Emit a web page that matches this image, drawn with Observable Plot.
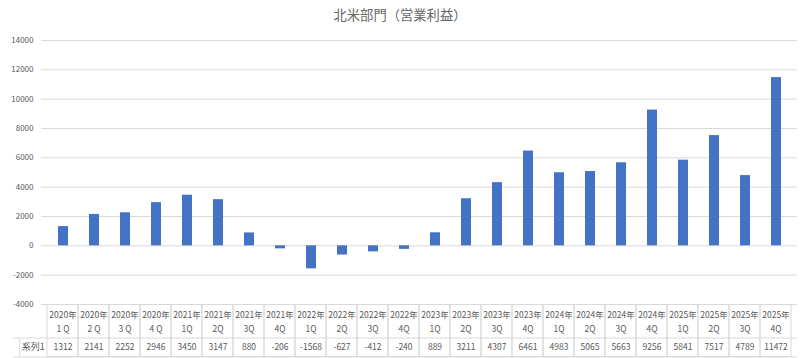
<!DOCTYPE html>
<html>
<head>
<meta charset="utf-8">
<script src="https://cdn.jsdelivr.net/npm/d3@7"></script>
<script src="https://cdn.jsdelivr.net/npm/@observablehq/plot@0.6"></script>
<style>
  html, body { margin: 0; padding: 0; background: #fff; }
  #wrap { width: 800px; height: 358px; position: relative; font-family: "Noto Sans CJK JP", "Noto Sans", sans-serif; }
  #title { height: 28px; line-height: 30px; text-align: center; font-size: 13.3px; color: #666666; }
  svg { display: block; }
</style>
</head>
<body>
<div id="wrap">
  <div id="title">北米部門（営業利益）</div>
  <div id="chart"></div>
  <div id="table"></div>
</div>
<script>
const years = ["2020年","2020年","2020年","2020年","2021年","2021年","2021年","2021年",
               "2022年","2022年","2022年","2022年","2023年","2023年","2023年","2023年",
               "2024年","2024年","2024年","2024年","2025年","2025年","2025年","2025年"];
const quarters = ["1 Q","2 Q","3 Q","4 Q","1Q","2Q","3Q","4Q",
                  "1Q","2Q","3Q","4Q","1Q","2Q","3Q","4Q",
                  "1Q","2Q","3Q","4Q","1Q","2Q","3Q","4Q"];
const values = [1312, 2141, 2252, 2946, 3450, 3147, 880, -206,
                -1568, -627, -412, -240, 889, 3211, 4307, 6461,
                4983, 5065, 5663, 9256, 5841, 7517, 4789, 11472];
const seriesName = "系列1";
const yTicks = [-4000, -2000, 0, 2000, 4000, 6000, 8000, 10000, 12000, 14000];

const data = values.map((v, i) => ({key: years[i] + quarters[i] + i, year: years[i], q: quarters[i], value: v}));
const domain = data.map(d => d.key);

const W = 800, ML = 41, MR = 3;
const gridColor = "#d9d9d9";
const textColor = "#595959";
const font = "'Noto Sans CJK JP', 'Noto Sans', sans-serif";

const chart = Plot.plot({
  width: W,
  height: 276,
  marginLeft: ML,
  marginRight: MR,
  marginTop: 12,
  marginBottom: 0,
  style: {fontFamily: font, fontSize: "8px", color: textColor, background: "transparent", overflow: "visible"},
  x: {domain, paddingInner: 0.68, paddingOuter: 0.34, axis: null},
  y: {domain: [-4000, 14000], axis: null},
  marks: [
    Plot.ruleY(yTicks, {stroke: gridColor, strokeOpacity: 1}),
    Plot.axisY({ticks: yTicks, tickSize: 0, tickPadding: 8, label: null, fill: textColor, fontSize: 8, tickFormat: d => String(d)}),
    Plot.barY(data, {x: "key", y: "value", fill: "#4472C4"})
  ]
});
document.getElementById("chart").appendChild(chart);

const table = Plot.plot({
  width: W,
  height: 54,
  marginLeft: ML,
  marginRight: MR,
  marginTop: 0,
  marginBottom: 0,
  style: {fontFamily: font, fontSize: "8.5px", color: textColor, background: "transparent", overflow: "visible"},
  x: {domain, padding: 0, axis: null},
  y: {domain: [0, 54], range: [0, 54], axis: null},
  marks: [
    Plot.barY(data, {x: "key", y1: 0.5, y2: 52.5, fill: "none", stroke: gridColor, strokeWidth: 1}),
    Plot.ruleY([33.5], {stroke: gridColor, strokeOpacity: 1, insetLeft: -28}),
    Plot.ruleY([52.5], {stroke: gridColor, strokeOpacity: 1, insetLeft: -28}),
    Plot.ruleX([domain[0]], {stroke: gridColor, strokeOpacity: 1, dx: -(W - ML - MR) / domain.length / 2 - 27.5, y1: 33.5, y2: 52.5}),
    Plot.text(data, {x: "key", y: 10.5, text: "year", fill: textColor, fontSize: 8.5}),
    Plot.text(data, {x: "key", y: 24.5, text: "q", fill: textColor, fontSize: 8.5}),
    Plot.text(data, {x: "key", y: 43, text: d => String(d.value), fill: textColor, fontSize: 8.5}),
    Plot.text([seriesName], {x: () => domain[0], y: 43, text: d => d, fill: textColor, fontSize: 9,
      dx: -(W - ML - MR) / domain.length / 2 - 14})
  ]
});
document.getElementById("table").appendChild(table);
</script>
</body>
</html>
